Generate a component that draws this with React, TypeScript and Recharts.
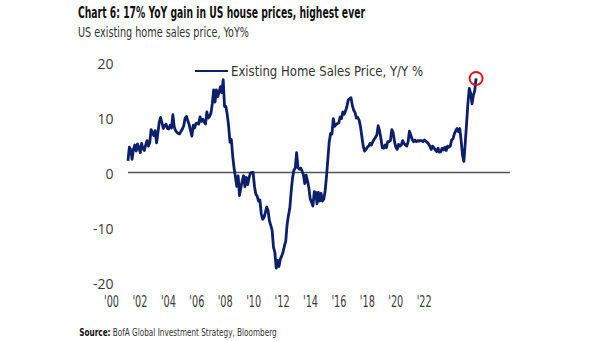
import React from "react";
import { LineChart, Line, XAxis, YAxis, ReferenceLine, ReferenceDot } from "recharts";

// Monthly YoY % values, Jan 2000 .. May 2021
const y2000 = [2.1, 4.6, 4.2, 2.4, 4.2, 5.0, 3.9, 5.2, 4.5, 3.6, 5.3, 4.4];
const y2001 = [4.0, 5.0, 5.8, 4.8, 5.4, 7.8, 7.2, 6.7, 7.6, 5.4, 7.2, 9.2];
const y2002 = [10.0, 9.0, 8.0, 8.5, 8.8, 8.0, 7.9, 8.6, 8.1, 10.5, 8.3, 7.6];
const y2003 = [7.3, 7.1, 7.0, 7.5, 7.9, 8.5, 9.9, 10.2, 9.4, 8.7, 7.6, 6.6];
const y2004 = [8.6, 8.1, 8.9, 9.0, 8.8, 10.1, 9.3, 9.7, 9.2, 8.8, 11.0, 9.9];
const y2005 = [10.2, 10.8, 12.5, 15.0, 12.8, 15.0, 13.8, 14.6, 15.6, 14.5, 16.9, 12.0];
const y2006 = [12.0, 10.5, 8.5, 5.5, 6.0, 3.0, 0.8, -0.8, -2.5, -0.6, -4.2, -2.8];
const y2007 = [-1.5, -0.6, -2.6, -0.9, -2.2, -1.0, -0.1, 0.0, 0.0, -2.5, -3.9, -4.3];
const y2008 = [-5.2, -5.0, -7.5, -8.5, -8.2, -7.3, -6.3, -6.9, -8.8, -9.6, -10.5, -13.6];
const y2009 = [-14.5, -17.4, -16.0, -17.1, -15.8, -15.2, -14.5, -13.4, -12.5, -9.5, -7.8, -6.5];
const y2010 = [-3.5, -1.0, 0.4, 0.8, 3.6, 0.9, 0.6, 0.8, 0.3, -0.4, -2.0, -0.5];
const y2011 = [-1.5, -2.8, -4.8, -5.4, -6.1, -3.5, -3.6, -5.7, -3.6, -5.2, -3.8, -5.2];
const y2012 = [-4.8, -3.3, -0.7, 2.5, 5.6, 7.1, 7.0, 9.8, 8.4, 8.7, 8.9, 9.0];
const y2013 = [10.1, 9.8, 11.0, 10.6, 11.2, 12.0, 13.2, 13.4, 13.6, 12.2, 11.3, 10.9];
const y2014 = [9.9, 10.0, 9.5, 8.3, 6.5, 4.8, 3.9, 4.2, 4.6, 4.8, 5.3, 5.0];
const y2015 = [5.6, 6.0, 6.4, 6.8, 8.5, 7.6, 6.2, 4.5, 4.4, 5.0, 4.5, 5.6];
const y2016 = [5.6, 5.8, 7.8, 7.2, 5.6, 4.6, 4.2, 5.1, 4.8, 5.0, 5.8, 5.3];
const y2017 = [5.0, 4.8, 5.6, 7.5, 6.8, 6.0, 5.6, 5.9, 5.6, 5.8, 5.7, 5.8];
const y2018 = [5.8, 5.6, 5.9, 5.7, 5.5, 5.2, 4.8, 4.2, 4.8, 4.5, 4.1, 3.8];
const y2019 = [4.4, 3.7, 3.8, 4.4, 4.1, 4.6, 4.0, 4.8, 4.6, 4.8, 5.9, 6.1];
const y2020 = [7.0, 7.6, 8.0, 7.4, 8.0, 5.8, 3.2, 2.0, 5.3, 8.9, 12.6, 15.3];
const y2021 = [14.4, 12.5, 14.0, 14.9, 17.1];

const xTickLabels = ["'00", "'02", "'04", "'06", "'08", "'10", "'12", "'14", "'16", "'18", "'20", "'22"];
const yTicks = [-20, -10, 0, 10, 20];

const seriesName = "Existing Home Sales Price, Y/Y %";
const title = "Chart 6: 17% YoY gain in US house prices, highest ever";
const subtitle = "US existing home sales price, YoY%";
const sourceLabel = "Source:";
const sourceText = "BofA Global Investment Strategy, Bloomberg";

const values = [
  ...y2000, ...y2001, ...y2002, ...y2003, ...y2004, ...y2005, ...y2006, ...y2007,
  ...y2008, ...y2009, ...y2010, ...y2011, ...y2012, ...y2013, ...y2014, ...y2015,
  ...y2016, ...y2017, ...y2018, ...y2019, ...y2020, ...y2021,
];
const data = values.map((v, i) => ({ t: i, v }));
const lastIdx = values.length - 1;

// Axis config: where the printed year labels sit on the (month-index) axis
const LABEL_START = -12.1;
const LABEL_STEP = 20.9;
const xTicks = xTickLabels.map((_, k) => LABEL_START + k * LABEL_STEP);

const NAVY = "#0b1f6b";
const FONT = "'Liberation Sans Narrow', 'DejaVu Sans Condensed', 'Open Sans', sans-serif";

const YTick = (props: any) => {
  const { x, y, payload } = props;
  return (
    <text x={x + 13.5} y={y + 0.5} textAnchor="end" dominantBaseline="central"
      fontFamily="'Open Sans', sans-serif" fontSize={14} fill="#3a3a3a">
      {payload.value}
    </text>
  );
};

const XTick = (props: any) => {
  const { x, y, payload } = props;
  const idx = Math.round((payload.value - LABEL_START) / LABEL_STEP);
  return (
    <text x={x} y={y + 19.2} textAnchor="middle" dominantBaseline="central"
      fontFamily={FONT} fontSize={15} fill="#3a3a3a" textLength={15} lengthAdjust="spacingAndGlyphs">
      {xTickLabels[idx]}
    </text>
  );
};

export default function App() {
  return (
    <div style={{ position: "fixed", left: 0, top: 0, width: 605, height: 341, background: "#fff" }}>
      <LineChart width={605} height={341} data={data}
        margin={{ top: 62.5, right: 93, bottom: 28.5, left: 60 }}>
        <XAxis xAxisId="d" dataKey="t" type="number" domain={[-20.59, 282.41]}
          allowDataOverflow ticks={xTicks} interval={0} axisLine={false} tickLine={false}
          tickSize={0} tickMargin={0} height={30} tick={<XTick />} />
        <YAxis yAxisId="y" type="number" domain={[-20, 20]} ticks={yTicks} width={40}
          axisLine={false} tickLine={false} tickSize={0} tickMargin={0} tick={<YTick />} />
        <ReferenceLine xAxisId="d" yAxisId="y"
          segment={[{ x: 0, y: 0 }, { x: 280.9, y: 0 }]} stroke="#555555" strokeWidth={1.5} />
        <Line xAxisId="d" yAxisId="y" dataKey="v" type="linear" stroke={NAVY} strokeWidth={2.8}
          dot={false} isAnimationActive={false} strokeLinejoin="round" />
        <ReferenceDot xAxisId="d" yAxisId="y" x={lastIdx} y={values[lastIdx]} r={6.5}
          fill="none" stroke="#e3121b" strokeWidth={2} />
      </LineChart>
      <svg width={605} height={341} style={{ position: "absolute", left: 0, top: 0, pointerEvents: "none" }}>
        <text x={78} y={18.3} fontFamily={FONT} fontWeight="bold" fontSize={15} fill="#111"
          textLength={287} lengthAdjust="spacingAndGlyphs">{title}</text>
        <text x={78} y={37.3} fontFamily={FONT} fontSize={13.5} fill="#333"
          textLength={171} lengthAdjust="spacingAndGlyphs">{subtitle}</text>
        <line x1={195} x2={228} y1={71} y2={71} stroke={NAVY} strokeWidth={2.2} />
        <text x={231} y={76.3} fontFamily={FONT} fontSize={14} fill="#333"
          textLength={192} lengthAdjust="spacingAndGlyphs">{seriesName}</text>
        <text x={79.3} y={336} fontFamily={FONT} fontSize={11} fill="#333"
          textLength={197.4} lengthAdjust="spacingAndGlyphs">
          <tspan fontWeight="bold" fill="#111">{sourceLabel}</tspan>
          {"  " + sourceText}
        </text>
      </svg>
    </div>
  );
}
